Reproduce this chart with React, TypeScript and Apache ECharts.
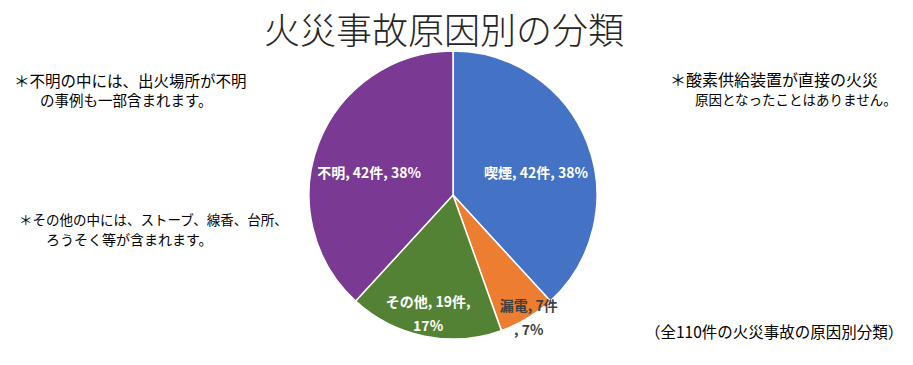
import React, { useEffect, useRef } from "react";
import * as echarts from "echarts";

const categories = ["喫煙", "漏電", "その他", "不明"];
const counts = [42, 7, 19, 42];
const pctLabels = ["38%", "7%", "17%", "38%"];
const colors = ["#4472C4", "#ED7D31", "#548235", "#7A3A94"];
const labelColors = ["#ffffff", "#404040", "#ffffff", "#ffffff"];
const titleText = "火災事故原因別の分類";
const noteLines = [
  ["＊不明の中には、出火場所が不明", "の事例も一部含まれます。"],
  ["＊その他の中には、ストーブ、線香、台所、", "ろうそく等が含まれます。"],
  ["＊酸素供給装置が直接の火災", "原因となったことはありません。"],
];
const footnote = "（全110件の火災事故の原因別分類）";

// label nudges (layout only)
const labelOffsets = [
  [13, 4],
  [37, 58],
  [-10, 44],
  [-14, 4],
];
const notePos = [
  [[14, 79.5], [40, 99]],
  [[19, 219], [46, 239]],
  [[670, 79], [695, 99]],
];
const noteSizes = [
  [15.5, 14.5],
  [13.5, 14],
  [16, 13.5],
];

const FONT = "'Noto Sans CJK JP', 'Noto Sans', sans-serif";

export default function App() {
  const ref = useRef<HTMLDivElement>(null);
  useEffect(() => {
    const chart = echarts.init(ref.current!, null, { renderer: "svg" });
    const graphics: any[] = [
      {
        type: "text",
        x: 444,
        y: 28,
        style: {
          text: titleText,
          fill: "#262626",
          font: `300 36px ${FONT}`,
          textAlign: "center",
          textVerticalAlign: "middle",
        },
      },
    ];
    noteLines.forEach((lines, i) => {
      lines.forEach((t, j) => {
        graphics.push({
          type: "text",
          x: notePos[i][j][0],
          y: notePos[i][j][1],
          style: {
            text: t,
            fill: "#000000",
            font: `${noteSizes[i][j]}px ${FONT}`,
            textAlign: "left",
            textVerticalAlign: "middle",
          },
        });
      });
    });
    graphics.push({
      type: "text",
      x: 645,
      y: 331,
      style: {
        text: footnote,
        fill: "#000000",
        font: `15.5px ${FONT}`,
        textAlign: "left",
        textVerticalAlign: "middle",
      },
    });

    chart.setOption({
      animation: false,
      backgroundColor: "#ffffff",
      graphic: graphics,
      series: [
        {
          type: "pie",
          center: [453, 195],
          radius: 144,
          startAngle: 90,
          clockwise: true,
          itemStyle: { borderColor: "#ffffff", borderWidth: 1.5 },
          label: {
            show: true,
            position: "inside",
            fontFamily: FONT,
            fontWeight: "bold",
            fontSize: 14,
            lineHeight: 24,
            formatter: (p: any) => {
              const i = p.dataIndex;
              if (i === 1) return `${p.name}, ${p.value}件\n, ${pctLabels[i]}`;
              if (i === 2) return `${p.name}, ${p.value}件,\n${pctLabels[i]}`;
              return `${p.name}, ${p.value}件, ${pctLabels[i]}`;
            },
          },
          labelLine: { show: false },
          labelLayout: (params: any) => {
            const o = labelOffsets[params.dataIndex];
            return { dx: o[0], dy: o[1] };
          },
          emphasis: { disabled: true },
          data: categories.map((c, i) => ({
            name: c,
            value: counts[i],
            itemStyle: { color: colors[i] },
            label: { color: labelColors[i] },
          })),
        },
      ],
    });
    return () => chart.dispose();
  }, []);
  return (
    <div
      ref={ref}
      style={{ position: "fixed", left: 0, top: 0, width: 913, height: 365 }}
    />
  );
}
